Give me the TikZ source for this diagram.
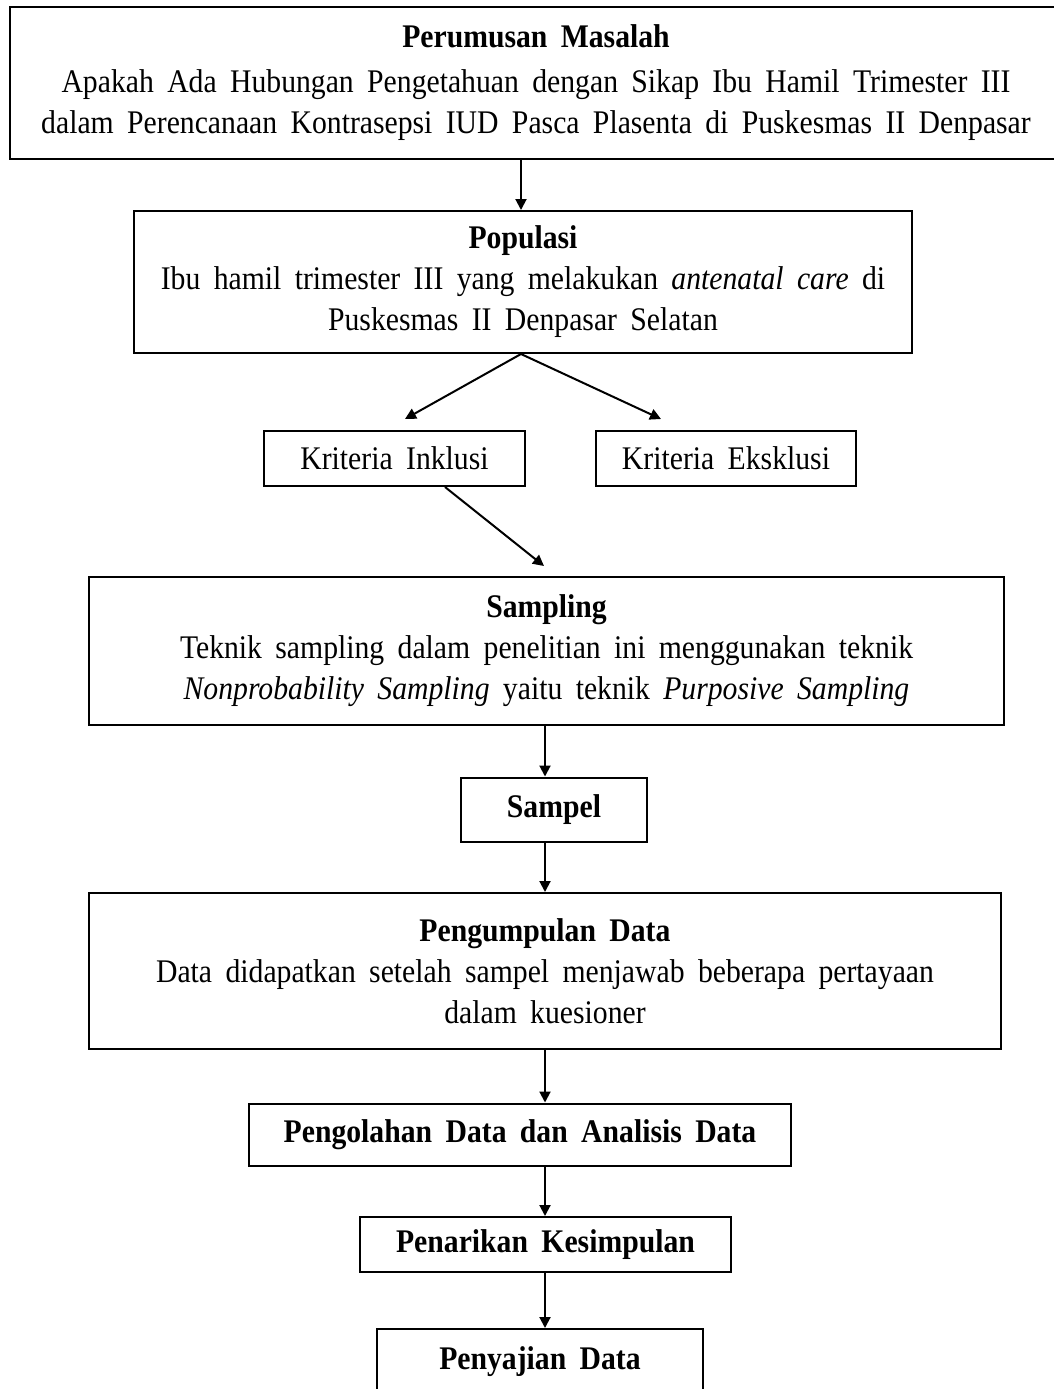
\documentclass[tikz,border=0pt]{standalone}
\usepackage{fontspec}
\setmainfont{Liberation Serif}[FakeStretch=0.9, WordSpace=1.8]
\usepackage{tikz}
\usetikzlibrary{arrows.meta, positioning, calc}
\tikzset{
  box/.style={rectangle, draw=black, fill=white, align=center,
    inner sep=0pt, line width=1pt, font=\fontsize{16.5}{20.5}\selectfont},
  arrow/.style={-{Triangle[length=5.5pt, width=5.5pt]}, line width=1pt, color=black}
}

\begin{document}
\begin{tikzpicture}[x=0.5pt, y=-0.5pt]
  \useasboundingbox (0,0) rectangle (1054,1389);
  \clip (0,0) rectangle (1054,1389);

  % Boxes
  \node[box, minimum width=526pt, minimum height=76pt] (rumusan) at (536,83)
    {\textbf{Perumusan Masalah}\\[2pt]
     Apakah Ada Hubungan Pengetahuan dengan Sikap Ibu Hamil Trimester III\\
     dalam Perencanaan Kontrasepsi IUD Pasca Plasenta di Puskesmas II Denpasar};
  \node[box, minimum width=389pt, minimum height=71pt] (populasi) at (523,282)
    {\textbf{Populasi}\\
     Ibu hamil trimester III yang melakukan \textit{antenatal care} di\\
     Puskesmas II Denpasar Selatan};
  \node[box, minimum width=130.5pt, minimum height=27.5pt] (inklusi) at (394.5,458.5)
    {Kriteria Inklusi};
  \node[box, minimum width=130pt, minimum height=27.5pt] (eksklusi) at (726,458.5)
    {Kriteria Eksklusi};
  \node[box, minimum width=457.5pt, minimum height=74pt] (sampling) at (546.5,651)
    {\textbf{Sampling}\\
     Teknik sampling dalam penelitian ini menggunakan teknik\\
     \textit{Nonprobability Sampling} yaitu teknik \textit{Purposive Sampling}};
  \node[box, minimum width=93pt, minimum height=32pt] (sampel) at (554,809.5)
    {\textbf{Sampel}};
  \node[box, minimum width=456pt, minimum height=78pt] (pengumpulan) at (545,971)
    {\textbf{Pengumpulan Data}\\
     Data didapatkan setelah sampel menjawab beberapa pertayaan\\
     dalam kuesioner};
  \node[box, minimum width=271pt, minimum height=31pt] (pengolahan) at (520,1134.5)
    {\textbf{Pengolahan Data dan Analisis Data}};
  \node[box, minimum width=185.5pt, minimum height=27.5pt] (penarikan) at (545.5,1244.5)
    {\textbf{Penarikan Kesimpulan}};
  \node[box, minimum width=163pt, minimum height=33pt] (penyajian) at (540,1362)
    {\textbf{Penyajian Data}};

  % Arrows
  \coordinate (axisA) at (521,0);
  \coordinate (axisB) at (545,0);
  \draw[arrow] (rumusan.south -| axisA) -- (populasi.north -| axisA);
  \draw[arrow] (populasi.south -| axisA) -- ($(inklusi.north)+(10.5,-11)$);
  \draw[arrow] (populasi.south -| axisA) -- ($(eksklusi.north)+(-65,-11)$);
  \draw[arrow] ($(inklusi.south)+(50.5,0)$) -- ($(sampling.north)+(-2.5,-10)$);
  \draw[arrow] (sampling.south -| axisB) -- (sampel.north -| axisB);
  \draw[arrow] (sampel.south -| axisB) -- (pengumpulan.north -| axisB);
  \draw[arrow] (pengumpulan.south -| axisB) -- (pengolahan.north -| axisB);
  \draw[arrow] (pengolahan.south -| axisB) -- (penarikan.north -| axisB);
  \draw[arrow] (penarikan.south -| axisB) -- (penyajian.north -| axisB);
\end{tikzpicture}
\end{document}
